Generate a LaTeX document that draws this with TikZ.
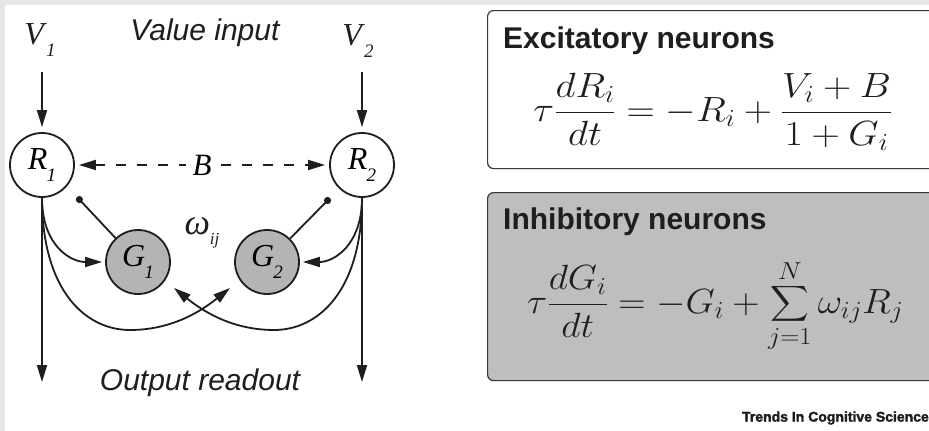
\RequirePackage{fix-cm}
\documentclass[tikz,border=0pt]{standalone}
\usepackage{amsmath}
\usepackage{graphicx}
\usepackage{fontspec}
\setmainfont{Liberation Serif}
\setsansfont{Liberation Sans}
\newfontfamily\logofont[FakeBold=2]{Liberation Sans Bold}
\usetikzlibrary{arrows.meta,positioning}
\usepackage{xcolor}
\definecolor{tcframe}{RGB}{230,231,233}
\definecolor{tcink}{RGB}{30,30,30}
\definecolor{tcgray}{RGB}{180,180,180}
\definecolor{tcbox}{RGB}{190,190,190}
\definecolor{tcedge}{RGB}{55,55,55}
\newcommand{\nlab}[2]{\textit{#1}\kern-.03em\raisebox{-.38em}{\fontsize{19}{19}\selectfont\itshape #2}}
\tikzset{
    cell/.style={
        circle,draw=tcink,line width=1.8pt,fill=#1,
        minimum size=64pt,inner sep=0pt,
        font=\fontsize{32}{32}\selectfont
    },
    cell/.default=white,
    lab/.style={
        inner sep=0pt,text=tcink,font=\fontsize{32}{32}\selectfont
    },
    caption/.style={
        inner sep=0pt,text=tcink,font=\fontsize{30}{32}\selectfont\sffamily\itshape
    },
    card/.style={
        draw=tcedge,line width=1.2pt,rounded corners=6pt,fill=#1,
        anchor=north west,inner sep=0pt
    },
    card/.default=white,
    heading/.style={
        anchor=base west,inner sep=0pt,text=tcink,
        font=\fontsize{30}{32}\selectfont\sffamily\bfseries
    },
    formula/.style={
        anchor=west,inner sep=0pt,text=tcink,
        font=\fontsize{35}{40}\selectfont
    },
    arrow/.style={
        -{Triangle[length=17pt,width=10pt]},line width=1.8pt,draw=tcink
    }
}

\begin{document}
\begin{tikzpicture}[x=1pt,y=-1pt]

\useasboundingbox (0,0) rectangle (929,431);
\fill[tcframe] (0,0) rectangle (929,431);
\fill[white] (5,5) rectangle (929,431);

% circuit
\node[cell] (R1) at (42,165) {\nlab{R}{1}};
\node[cell] (R2) at (362,165) {\nlab{R}{2}};
\node[cell=tcgray] (G1) at (138,262) {\nlab{G}{1}};
\node[cell=tcgray] (G2) at (267,262) {\nlab{G}{2}};

\node[lab] (V1) at (40,40) {\nlab{V}{1}};
\node[lab] (V2) at (358,41) {\nlab{V}{2}};
\node[caption] (vin) at (205,33) {Value input};
\node[caption] (vout) at (200,383) {Output readout};
\node[lab] (wij) at (202,233)
{{\fontsize{36}{36}\selectfont\itshape ω}\raisebox{-.3em}{\fontsize{17}{17}\selectfont\itshape ij}};

\coordinate (in1) at (42,72);
\coordinate (in2) at (362,72);
\coordinate (out1) at (42,382);
\coordinate (out2) at (362,382);
\coordinate (inh1) at (77,197);
\coordinate (inh2) at (330,198);
\coordinate (low1) at (130,330);
\coordinate (low2) at (274,330);

\draw[arrow,shorten >=5pt] (in1) -- (R1);
\draw[arrow,shorten >=5pt] (in2) -- (R2);
\draw[arrow] (R1) -- (out1);
\draw[arrow] (R2) -- (out2);

\draw[arrow,{Triangle[length=17pt,width=10pt]}-{Triangle[length=17pt,width=10pt]},
    dash pattern=on 10pt off 11pt,shorten <=4pt,shorten >=4pt]
    (R1) -- node[fill=white,inner sep=7pt,font=\fontsize{31}{32}\selectfont\itshape] (B) {B} (R2);

\draw[line width=1.8pt,draw=tcink,{Circle[length=7pt]}-] (inh1) -- (G1);
\draw[line width=1.8pt,draw=tcink,{Circle[length=7pt]}-] (inh2) -- (G2);

\draw[arrow,shorten >=3pt] (R1.south) .. controls (42,245) and (70,262) .. (G1.west);
\draw[arrow,shorten >=3pt] (R2.south) .. controls (362,245) and (334,262) .. (G2.east);

\draw[arrow] (R1.south) .. controls (42,290) and (85,330) .. (low1)
    .. controls (175,330) and (205,308) .. (230,288);
\draw[arrow] (R2.south) .. controls (362,290) and (319,330) .. (low2)
    .. controls (229,330) and (199,308) .. (174,288);

% equations
\node[card,minimum width=480pt,minimum height=158pt] (excbox) at (487,10) {};
\node[card=tcbox,minimum width=480pt,minimum height=188pt] (inhbox) at (487,192) {};

\node[heading] (exct) at (503,48) {Excitatory neurons};
\node[heading] (inht) at (503,229) {Inhibitory neurons};

\node[formula] (exceq) at (533,112)
{\scalebox{1.12}[1]{$\displaystyle \tau\frac{dR_i}{dt} = -R_i + \frac{V_i+B}{1+G_i}$}};
\node[formula] (inheq) at (527,306)
{\scalebox{1.08}[1]{$\displaystyle \tau\frac{dG_i}{dt} = -G_i + \sum_{j=1}^{N}\omega_{ij}R_j$}};

\node[anchor=east,inner sep=0pt,text=tcink,
    font=\fontsize{14}{15}\selectfont\logofont] (logo) at (929,418)
{Trends In Cognitive Science};

\end{tikzpicture}
\end{document}
